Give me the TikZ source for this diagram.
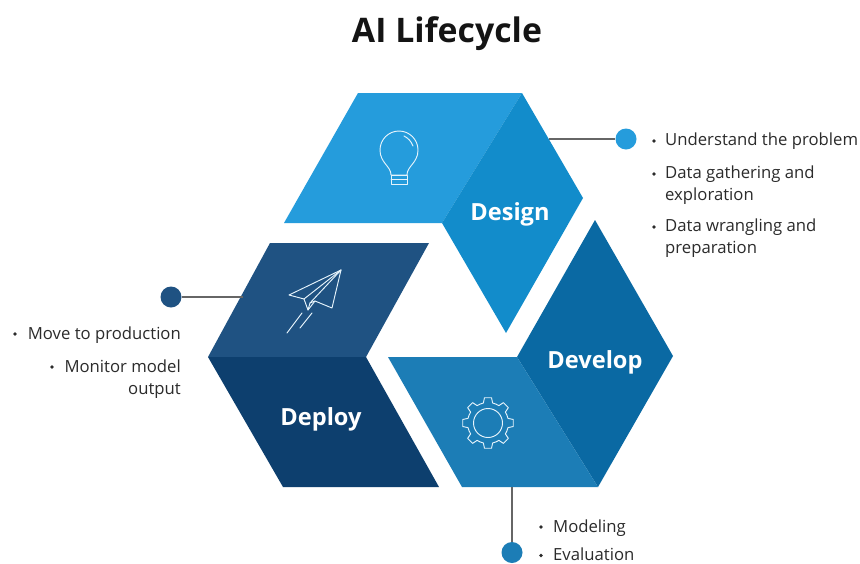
\documentclass[tikz,border=0pt]{standalone}
\usepackage{fontspec}
\setmainfont{Open Sans}
\definecolor{dsgnL}{HTML}{259CDC}
\definecolor{dsgnD}{HTML}{128CCB}
\definecolor{devD}{HTML}{0A69A3}
\definecolor{devL}{HTML}{1C7DB6}
\definecolor{depL}{HTML}{1F5282}
\definecolor{depD}{HTML}{0D3F6E}
\definecolor{txt}{HTML}{2B2B2B}
\tikzset{
  x=1pt,y=-1pt,
  dotn/.style={circle,minimum size=21pt,inner sep=0pt,draw=none},
  lead/.style={draw=black!60,line width=1.3pt},
  icon/.style={draw=white!88!dsgnL,line width=0.95pt,line join=round,line cap=round},
  head/.style={text=white,font=\bfseries\fontsize{23.6}{26}\selectfont,inner sep=0pt},
  item/.style={text=txt,font=\fontsize{16.7}{19}\selectfont,inner sep=0pt,anchor=base west},
  itemr/.style={text=txt,font=\fontsize{16.7}{19}\selectfont,inner sep=0pt,anchor=base east},
  bul/.style={circle,fill=txt,minimum size=3.8pt,inner sep=0pt},
}
\begin{document}
\begin{tikzpicture}
\useasboundingbox (0,0) rectangle (860,563);
\fill[white] (0,0) rectangle (860,563);
\node[text=black!92,font=\bfseries\fontsize{33.8}{36}\selectfont,inner sep=0pt] (title) at (447,34) {AI Lifecycle};

% segments
\fill[dsgnL] (358,93) -- (522,93) -- (442,223) -- (284,223) -- cycle;
\fill[dsgnD] (522,93) -- (583,198) -- (506,333) -- (442,223) -- cycle;
\fill[devD] (595,220) -- (673,356) -- (598,487) -- (517,357) -- cycle;
\fill[devL] (388,357) -- (517,357) -- (598,487) -- (462,487) -- cycle;
\fill[depL] (270,243) -- (429,243) -- (366,357) -- (208,357) -- cycle;
\fill[depD] (208,357) -- (366,357) -- (439,487) -- (283,487) -- cycle;

\node[head] (design) at (510,214.5) {Design};
\node[head] (develop) at (595,362) {Develop};
\node[head] (deploy) at (321,419) {Deploy};

% connectors
\coordinate (a1) at (549,139);
\coordinate (a2) at (243,297);
\coordinate (a3) at (512,487);
\node[dotn,fill=dsgnL] (d1) at (626,139) {};
\node[dotn,fill=depL] (d2) at (171,297) {};
\node[dotn,fill=devL] (d3) at (512,552.5) {};
\draw[lead] (a1) -- (d1);
\draw[lead] (a2) -- (d2);
\draw[lead] (a3) -- (d3);

% bulb
\draw[icon] (391,175) .. controls (391,166) and (380,163) .. (380,150)
  arc[start angle=180,end angle=360,radius=19] .. controls (418,163) and (407,166) .. (407,175) -- cycle;
\draw[icon] (391,175) rectangle (407,184);
\draw[icon] (391,179.5) -- (407,179.5);
\draw[icon] (404,136) .. controls (408,138) and (411,141) .. (413,146);

% plane
\draw[icon] (341,270) -- (289,295) -- (304,299) -- (308,310) -- (315,301) -- (332,308) -- cycle;
\draw[icon] (341,270) -- (304,299);
\draw[icon] (341,270) -- (310,303) -- (308,310);
\draw[icon] (310,303) -- (315,301);
\draw[icon] (287,333) -- (302,313);
\draw[icon] (300,328) -- (312,313);

% gear
\draw[icon] (488,423) circle[radius=14.5];
\draw[icon] ([shift={(-8:25.5)}]488,423)
  \foreach \a in {0,45,...,315} {
    -- ([shift={(\a+8:25.5)}]488,423)
    -- ([shift={(\a+13:20.5)}]488,423)
    arc[start angle=\a+13,end angle=\a+32,radius=20.5]
    -- ([shift={(\a+37:25.5)}]488,423)
  } -- cycle;

% texts
\node[bul] (b1) at (654,141) {};
\node[item] (t1) at (665,145) {Understand the problem};
\node[bul] (b2) at (654,174) {};
\node[item] (t2) at (665,178) {Data gathering and};
\node[item] (t3) at (665,200) {exploration};
\node[bul] (b3) at (654,227) {};
\node[item] (t4) at (665,231) {Data wrangling and};
\node[item] (t5) at (665,253) {preparation};

\node[bul] (b4) at (15,334) {};
\node[itemr] (t6) at (181,339) {Move to production};
\node[bul] (b5) at (52,367) {};
\node[itemr] (t7) at (181,372) {Monitor model};
\node[itemr] (t8) at (181,394) {output};

\node[bul] (b6) at (541,527) {};
\node[item] (t9) at (553,532) {Modeling};
\node[bul] (b7) at (541,555.5) {};
\node[item] (t10) at (553,560) {Evaluation};
\end{tikzpicture}
\end{document}
